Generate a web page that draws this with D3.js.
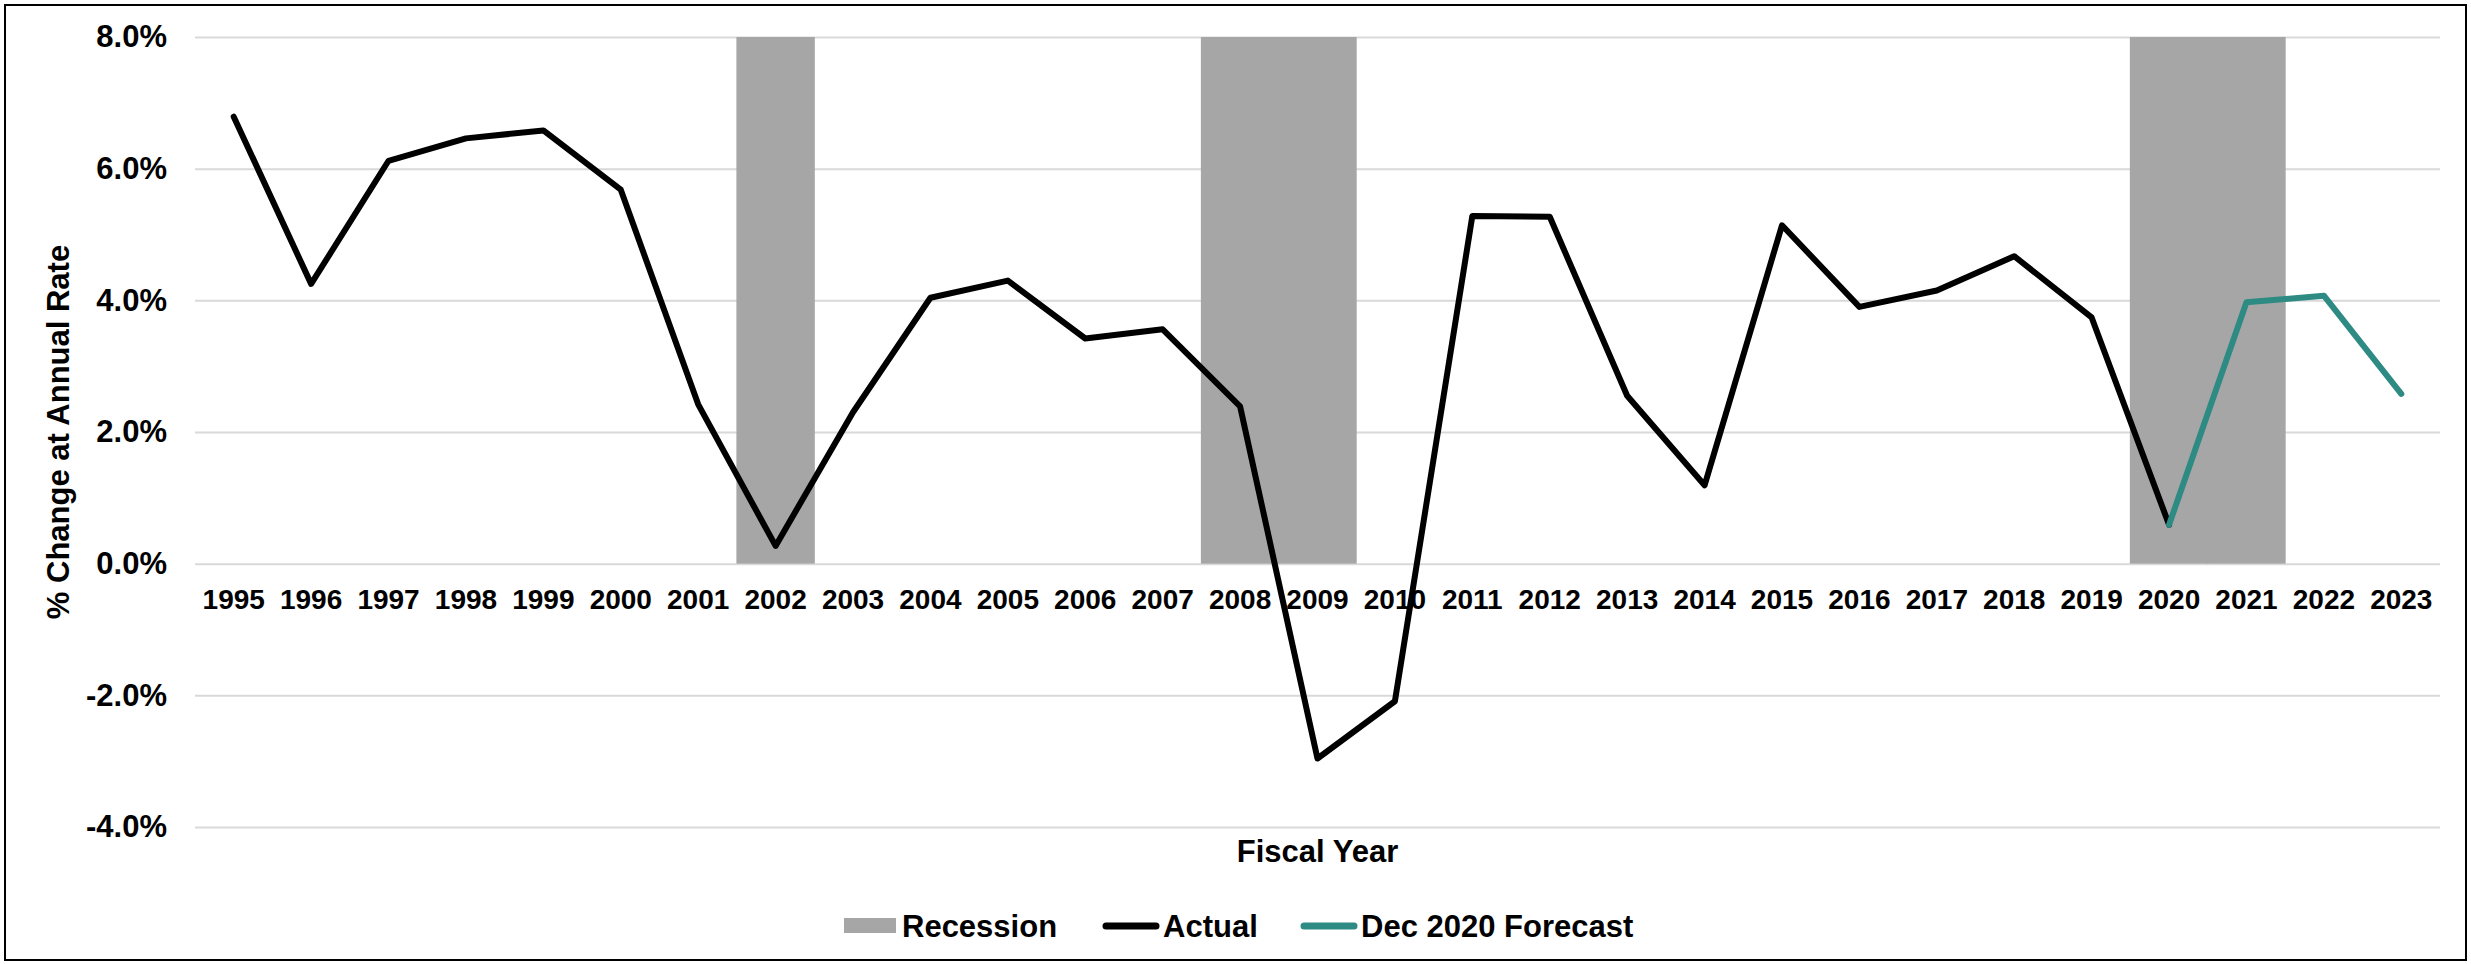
<!DOCTYPE html>
<html>
<head>
<meta charset="utf-8">
<script src="https://cdn.jsdelivr.net/npm/d3@7"></script>
<style>
  html, body { margin: 0; padding: 0; background: #fff; }
  svg { display: block; font-family: Arial, "Liberation Sans", sans-serif; font-weight: bold; }
</style>
</head>
<body>
<svg id="chart" width="2471" height="964"></svg>
<script>
// --- DATA --------------------------------------------------------------------
const YEARS = ['1995','1996','1997','1998','1999','2000','2001','2002','2003','2004',
  '2005','2006','2007','2008','2009','2010','2011','2012','2013','2014',
  '2015','2016','2017','2018','2019','2020','2021','2022','2023'];

const ACTUAL = [6.79, 4.25, 6.12, 6.46, 6.58, 5.68, 2.42, 0.27, 2.30, 4.04,
  4.30, 3.42, 3.56, 2.39, -2.96, -2.09, 5.28, 5.27, 2.55, 1.19,
  5.14, 3.90, 4.15, 4.67, 3.74, 0.59, null, null, null];

const FORECAST = [null, null, null, null, null, null, null, null, null, null,
  null, null, null, null, null, null, null, null, null, null,
  null, null, null, null, null, 0.59, 3.97, 4.07, 2.58];

const RECESSION_YEARS = ['2002', '2008', '2009', '2020', '2021'];
const RECESSION_TOP = 8;

const Y_TICKS = [-4, -2, 0, 2, 4, 6, 8];

const LEGEND = [
  { key: 'Recession',         type: 'rect' },
  { key: 'Actual',            type: 'line' },
  { key: 'Dec 2020 Forecast', type: 'line' },
];

// --- LAYOUT / STYLE ------------------------------------------------------------
const W = 2471, H = 964;
const PLOT = { left: 195, right: 2440, top: 37, bottom: 827 };
const COL = {
  GRID: '#d9d9d9',
  REC: '#a6a6a6',
  ACTUAL: '#000000',
  FORECAST: '#2e8b84',
};
const LINE_W = 6;

const svg = d3.select('#chart');

// outer frame
svg.append('rect')
  .attr('x', 5).attr('y', 5).attr('width', W - 10).attr('height', H - 9)
  .attr('fill', 'none').attr('stroke', '#000').attr('stroke-width', 2);

const x = d3.scaleBand().domain(YEARS).range([PLOT.left, PLOT.right]).padding(0);
const y = d3.scaleLinear().domain([-4, 8]).range([PLOT.bottom, PLOT.top]);
const xc = d => x(d) + x.bandwidth() / 2;

// gridlines
svg.append('g')
  .attr('transform', `translate(${PLOT.left},0)`)
  .call(d3.axisLeft(y).tickValues(Y_TICKS).tickSize(-(PLOT.right - PLOT.left)).tickFormat(''))
  .call(g => g.select('.domain').remove())
  .call(g => g.selectAll('line').attr('stroke', COL.GRID).attr('stroke-width', 2));

// recession bars — slight overlap so adjacent years merge into one block
svg.append('g').selectAll('rect')
  .data(RECESSION_YEARS)
  .join('rect')
  .attr('x', d => x(d) - 0.5)
  .attr('width', x.bandwidth() + 1)
  .attr('y', y(RECESSION_TOP))
  .attr('height', y(0) - y(RECESSION_TOP))
  .attr('fill', COL.REC);

// lines
const line = d3.line()
  .defined(d => d.v !== null)
  .x(d => xc(d.year))
  .y(d => y(d.v));

svg.append('path')
  .datum(YEARS.map((year, i) => ({ year, v: ACTUAL[i] })))
  .attr('d', line)
  .attr('fill', 'none').attr('stroke', COL.ACTUAL)
  .attr('stroke-width', LINE_W).attr('stroke-linejoin', 'round').attr('stroke-linecap', 'round');

svg.append('path')
  .datum(YEARS.map((year, i) => ({ year, v: FORECAST[i] })))
  .attr('d', line)
  .attr('fill', 'none').attr('stroke', COL.FORECAST)
  .attr('stroke-width', LINE_W).attr('stroke-linejoin', 'round').attr('stroke-linecap', 'round');

// y axis labels
svg.append('g')
  .attr('transform', `translate(${PLOT.left},0)`)
  .call(d3.axisLeft(y).tickValues(Y_TICKS).tickSize(0).tickPadding(28)
    .tickFormat(d => d.toFixed(1) + '%'))
  .call(g => g.select('.domain').remove())
  .call(g => g.selectAll('text')
    .attr('font-size', 31).attr('font-family', null).attr('font-weight', 'bold').attr('fill', '#000'));

// x axis labels (sit on the zero line)
svg.append('g')
  .attr('transform', `translate(0,${y(0)})`)
  .call(d3.axisBottom(x).tickSize(0).tickPadding(25))
  .call(g => g.select('.domain').remove())
  .call(g => g.selectAll('text')
    .attr('font-size', 28).attr('font-family', null).attr('font-weight', 'bold').attr('fill', '#000'));

// axis titles
svg.append('text')
  .attr('x', (PLOT.left + PLOT.right) / 2).attr('y', 862)
  .attr('text-anchor', 'middle').attr('font-size', 31)
  .text('Fiscal Year');

svg.append('text')
  .attr('transform', `translate(69,${(PLOT.top + PLOT.bottom) / 2}) rotate(-90)`)
  .attr('text-anchor', 'middle').attr('font-size', 31)
  .text('% Change at Annual Rate');

// legend
const LEG_Y = 926;
const LEG_X = [844, 1103, 1301];
const legG = svg.append('g').selectAll('g')
  .data(LEGEND)
  .join('g')
  .attr('transform', (d, i) => `translate(${LEG_X[i]},${LEG_Y})`);

legG.filter(d => d.type === 'rect').append('rect')
  .attr('x', 0).attr('y', -8).attr('width', 52).attr('height', 15)
  .attr('fill', COL.REC);

legG.filter(d => d.type === 'line').append('line')
  .attr('x1', 3).attr('x2', 53).attr('y1', 0).attr('y2', 0)
  .attr('stroke', d => d.key === 'Actual' ? COL.ACTUAL : COL.FORECAST)
  .attr('stroke-width', 7).attr('stroke-linecap', 'round');

legG.append('text')
  .attr('x', d => d.type === 'rect' ? 58 : 60)
  .attr('y', 11)
  .attr('font-size', 31)
  .text(d => d.key);
</script>
</body>
</html>
